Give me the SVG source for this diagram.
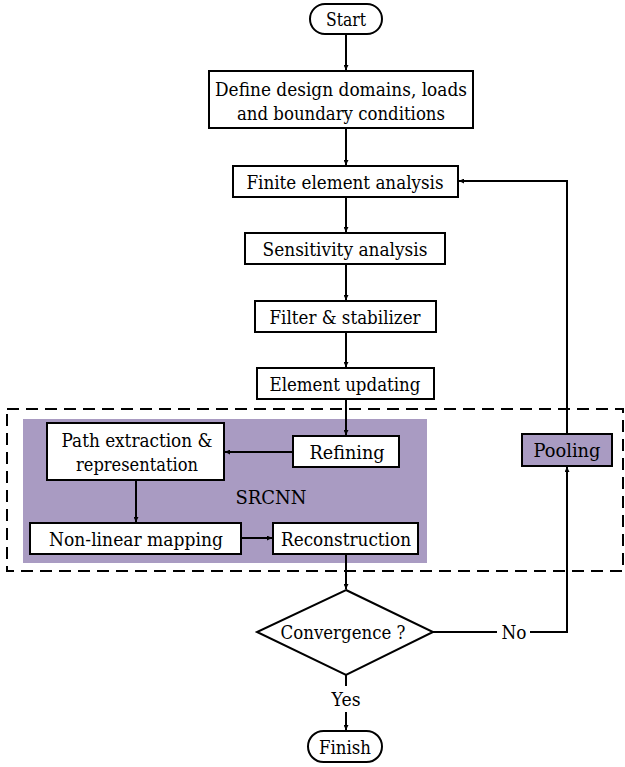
<svg xmlns="http://www.w3.org/2000/svg" width="625" height="767" viewBox="0 0 625 767">
<style>
.box{fill:#fff;stroke:#000;stroke-width:2}
.pbox{fill:#A99BC2;stroke:#000;stroke-width:2}
.t{font-family:"DejaVu Serif","Liberation Serif",serif;font-size:19px;fill:#000;text-anchor:middle}
.c{fill:none;stroke:#000;stroke-width:2}
</style>
<defs>
<marker id="ah" viewBox="0 0 10 10" refX="10" refY="5" markerWidth="5" markerHeight="5" orient="auto" markerUnits="userSpaceOnUse">
<path d="M0,0 L10,5 L0,10 z" fill="#000"/>
</marker>
</defs>
<rect x="7" y="409" width="616" height="162" fill="none" stroke="#000" stroke-width="2" stroke-dasharray="12,7"/>
<rect id="srcnn-bg" x="23" y="419" width="404" height="144" fill="#A99BC2"/>
<text class="t" x="271" y="504" textLength="71" lengthAdjust="spacingAndGlyphs">SRCNN</text>
<g id="connectors">
<line class="c" x1="346" y1="34" x2="346" y2="70" marker-end="url(#ah)"/>
<line class="c" x1="346" y1="128" x2="346" y2="165" marker-end="url(#ah)"/>
<line class="c" x1="346" y1="197" x2="346" y2="232" marker-end="url(#ah)"/>
<line class="c" x1="346" y1="264" x2="346" y2="300" marker-end="url(#ah)"/>
<line class="c" x1="346" y1="332" x2="346" y2="367" marker-end="url(#ah)"/>
<line class="c" x1="346" y1="399" x2="346" y2="435" marker-end="url(#ah)"/>
<line class="c" x1="293" y1="452" x2="225" y2="452" marker-end="url(#ah)"/>
<line class="c" x1="136" y1="480" x2="136" y2="522" marker-end="url(#ah)"/>
<line class="c" x1="241" y1="538" x2="272" y2="538" marker-end="url(#ah)"/>
<line class="c" x1="346" y1="554" x2="346" y2="589" marker-end="url(#ah)"/>
<line class="c" x1="346" y1="675" x2="346" y2="686"/>
<line class="c" x1="346" y1="712" x2="346" y2="730" marker-end="url(#ah)"/>
<line class="c" x1="433" y1="632" x2="497" y2="632"/>
<polyline class="c" points="530,632 567,632 567,467" marker-end="url(#ah)"/>
<polyline class="c" points="567,434 567,181 459,181" marker-end="url(#ah)"/>
<text class="t" x="514" y="639" textLength="25" lengthAdjust="spacingAndGlyphs">No</text>
<text class="t" x="346" y="706" textLength="29" lengthAdjust="spacingAndGlyphs">Yes</text>
</g>
<g id="start"><rect class="box" x="310" y="4" width="72" height="30" rx="15"/><text class="t" x="346" y="26" textLength="40" lengthAdjust="spacingAndGlyphs">Start</text></g>
<g id="define"><rect class="box" x="209" y="71" width="264" height="57"/><text class="t" x="341" y="96" textLength="252" lengthAdjust="spacingAndGlyphs">Define design domains, loads</text><text class="t" x="341" y="120" textLength="208" lengthAdjust="spacingAndGlyphs">and boundary conditions</text></g>
<g id="fea"><rect class="box" x="233" y="166" width="225" height="31"/><text class="t" x="345" y="189" textLength="197" lengthAdjust="spacingAndGlyphs">Finite element analysis</text></g>
<g id="sens"><rect class="box" x="245" y="233" width="200" height="31"/><text class="t" x="345" y="256" textLength="165" lengthAdjust="spacingAndGlyphs">Sensitivity analysis</text></g>
<g id="filter"><rect class="box" x="255" y="301" width="181" height="31"/><text class="t" x="345" y="324" textLength="151" lengthAdjust="spacingAndGlyphs">Filter &amp; stabilizer</text></g>
<g id="update"><rect class="box" x="257" y="368" width="177" height="31"/><text class="t" x="345" y="391" textLength="151" lengthAdjust="spacingAndGlyphs">Element updating</text></g>
<g id="path"><rect class="box" x="47" y="423" width="177" height="57"/><text class="t" x="137" y="447" textLength="151" lengthAdjust="spacingAndGlyphs">Path extraction &amp;</text><text class="t" x="137" y="471" textLength="122" lengthAdjust="spacingAndGlyphs">representation</text></g>
<g id="refining"><rect class="box" x="293" y="436" width="106" height="31"/><text class="t" x="347" y="459" textLength="75" lengthAdjust="spacingAndGlyphs">Refining</text></g>
<g id="nonlinear"><rect class="box" x="30" y="523" width="211" height="31"/><text class="t" x="136" y="546" textLength="174" lengthAdjust="spacingAndGlyphs">Non-linear mapping</text></g>
<g id="recon"><rect class="box" x="273" y="523" width="145" height="31"/><text class="t" x="346" y="546" textLength="130" lengthAdjust="spacingAndGlyphs">Reconstruction</text></g>
<g id="pooling"><rect class="pbox" x="522" y="434" width="90" height="32"/><text class="t" x="567" y="457" textLength="67" lengthAdjust="spacingAndGlyphs">Pooling</text></g>
<g id="conv"><polygon class="box" points="346,590 433,632 346,675 257,632"/><text class="t" x="343" y="639" textLength="125" lengthAdjust="spacingAndGlyphs">Convergence ?</text></g>
<g id="finish"><rect class="box" x="308" y="731" width="74" height="31" rx="15.5"/><text class="t" x="345" y="754" textLength="52" lengthAdjust="spacingAndGlyphs">Finish</text></g>
</svg>
